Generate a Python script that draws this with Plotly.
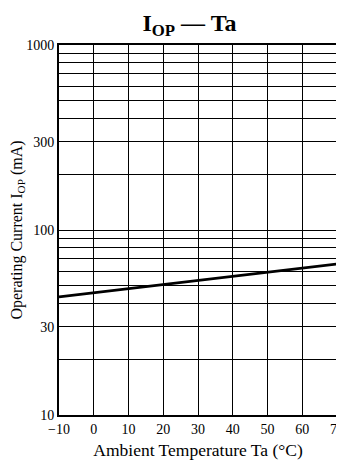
import plotly.graph_objects as go

# Data
temps = [-10, 70]
iop = [43.5, 65.5]

x_ticks = [-10, 0, 10, 20, 30, 40, 50, 60, 70]
x_labels = ["\u221210", "0", "10", "20", "30", "40", "50", "60", "70"]
y_ticks = [10, 30, 100, 300, 1000]
y_labels = ["10", "30", "100", "300", "1000"]
y_minor = [20, 40, 50, 60, 70, 80, 90, 200, 400, 500, 600, 700, 800, 900]

serif = "Liberation Serif, Times New Roman, serif"

fig = go.Figure()
fig.add_trace(go.Scatter(x=temps, y=iop, mode="lines",
                         line=dict(color="black", width=2.6), showlegend=False,
                         hoverinfo="skip"))

fig.update_layout(
    width=336, height=459,
    margin=dict(l=51, r=7, t=37, b=52),
    paper_bgcolor="white", plot_bgcolor="white",
    font=dict(family=serif, color="black", size=14),
    title=dict(text="<b>I<sub>OP</sub> \u2014 Ta</b>", x=0.54, xanchor="center",
               y=0.968, yanchor="middle", font=dict(family=serif, size=24, color="black")),
    xaxis=dict(range=[-10, 70], tickvals=x_ticks, ticktext=x_labels, automargin=False,
               showgrid=True, gridcolor="black", gridwidth=1.3,
               showline=True, linecolor="black", linewidth=2, mirror=True,
               ticks="", zeroline=False, tickfont=dict(size=14, family=serif),
               title=dict(text="Ambient Temperature Ta (\u00b0C)", standoff=8,
                          font=dict(size=17.5, family=serif))),
    yaxis=dict(type="log", range=[1, 3], tickvals=y_ticks, ticktext=y_labels, automargin=False,
               showgrid=True, gridcolor="black", gridwidth=1.3,
               minor=dict(tickvals=y_minor, showgrid=True, gridcolor="black", gridwidth=1.3, ticks=""),
               showline=True, linecolor="black", linewidth=2, mirror=True,
               ticks="", zeroline=False, tickfont=dict(size=14, family=serif),
               title=dict(text="Operating Current I<sub>OP</sub> (mA)", standoff=4,
                          font=dict(size=16, family=serif))),
)

fig.write_html("out.html")
